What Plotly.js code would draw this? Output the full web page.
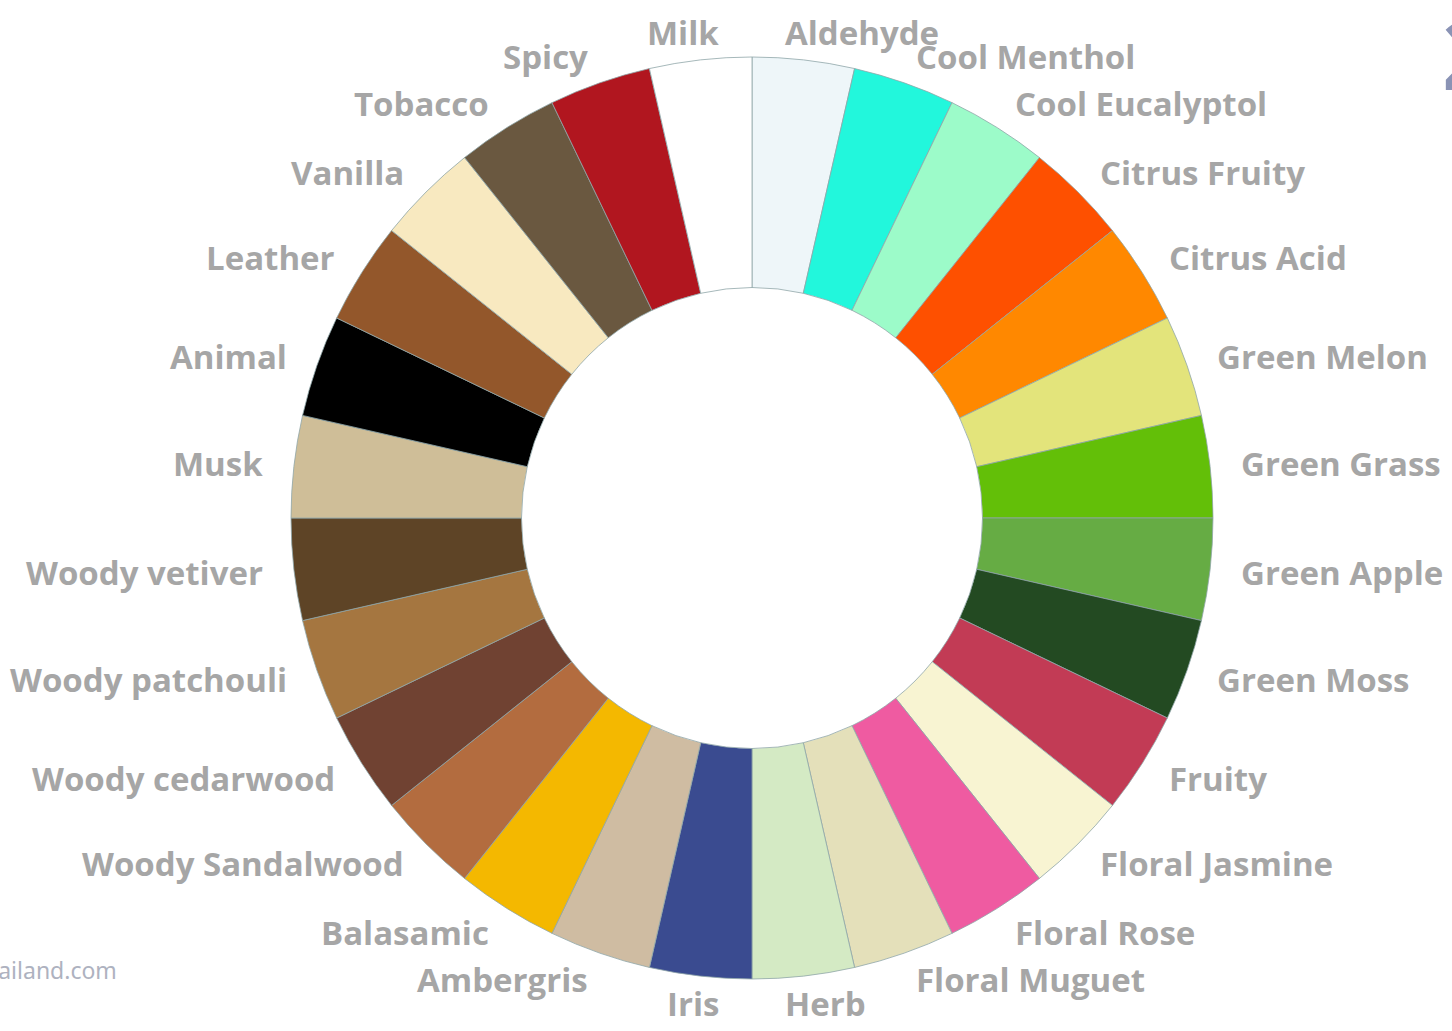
<!DOCTYPE html>
<html>
<head>
<meta charset="utf-8">
<script src="https://cdn.plot.ly/plotly-3.0.1.min.js"></script>
<style>html,body{margin:0;padding:0;background:#fff;}#chart{width:1452px;height:1031px;}</style>
</head>
<body>
<div id="chart"></div>
<script>
const labels = ["Aldehyde","Cool Menthol","Cool Eucalyptol","Citrus Fruity","Citrus Acid","Green Melon","Green Grass","Green Apple","Green Moss","Fruity","Floral Jasmine","Floral Rose","Floral Muguet","Herb","Iris","Ambergris","Balasamic","Woody Sandalwood","Woody cedarwood","Woody patchouli","Woody vetiver","Musk","Animal","Leather","Vanilla","Tobacco","Spicy","Milk"];
const values = [1,1,1,1,1,1,1,1,1,1,1,1,1,1,1,1,1,1,1,1,1,1,1,1,1,1,1,1];
const colors = ["#eef6f9","#22f7dc","#9cfbc9","#fe5000","#ff8800","#e3e47b","#63bf08","#66ac44","#234a22","#c23b55","#f8f4d2","#ef5ba1","#e4e0ba","#d4eac4","#3a4b90","#cfbca2","#f4b800","#b36c3f","#704232","#a57640","#5e4426","#cfbe98","#000000","#93572b","#f8e9c0","#6a5840","#b1161f","#ffffff"];

const W = 1452, H = 1031;
const cx = 752, cy = 518, R = 461;
const RX = 490, RX_POLE = 280, RY = 489; // label placement radii around the ring

const labelFont = {family: "Open Sans, Noto Sans, sans-serif", size: 33, color: "#a6a6a6", weight: "bold"};

// one label per slice, placed at the slice's mid-angle (clockwise from 12 o'clock)
const total = values.reduce((a, b) => a + b, 0);
let acc = 0;
const labelAnnotations = values.map((v, i) => {
  const mid = (acc + v / 2) / total * 2 * Math.PI;
  acc += v;
  const s = Math.sin(mid), c = Math.cos(mid);
  const pole = Math.abs(s) < 0.2;
  const px = cx + (pole ? RX_POLE : RX) * s;
  const py = cy - RY * c;
  return {
    text: labels[i], xref: "paper", yref: "paper",
    x: px / W, y: (H - py) / H,
    xanchor: s >= 0 ? "left" : "right", yanchor: "middle",
    showarrow: false, font: labelFont
  };
});

const ringTrace = {
  type: "pie",
  labels: labels,
  values: values,
  sort: false,
  direction: "clockwise",
  rotation: 0,
  hole: 0.5,
  marker: {colors: colors, line: {color: "#8fa6a8", width: 0.8}},
  textinfo: "none",
  domain: {x: [(cx - R) / W, (cx + R) / W], y: [(H - cy - R) / H, (H - cy + R) / H]},
  automargin: false,
  hoverinfo: "label"
};

const layout = {
  width: W, height: H,
  margin: {l: 0, r: 0, t: 0, b: 0},
  showlegend: false,
  paper_bgcolor: "#ffffff",
  annotations: labelAnnotations.concat([
    {text: "hailand.com", xref: "paper", yref: "paper", x: 119 / W, y: (H - 970) / H,
     xanchor: "right", yanchor: "middle", showarrow: false,
     font: {family: "Noto Sans, sans-serif", size: 23, color: "#aeb2bf"}},
    {text: "2", xref: "paper", yref: "paper", x: 1440 / W, y: (H - 52) / H,
     xanchor: "left", yanchor: "middle", showarrow: false,
     font: {family: "Noto Sans, sans-serif", size: 96, color: "#8a93b5", weight: "bold"}}
  ])
};

Plotly.newPlot("chart", [ringTrace], layout, {displayModeBar: false, staticPlot: true});
</script>
</body>
</html>
